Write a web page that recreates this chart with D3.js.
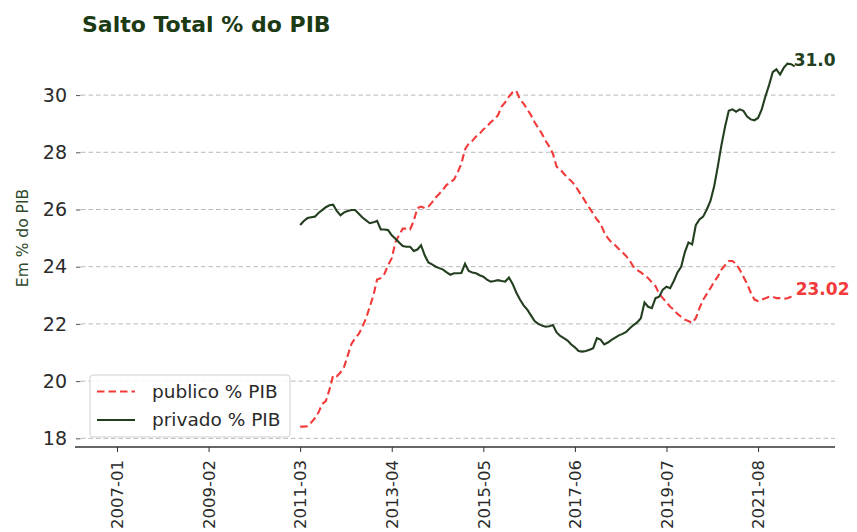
<!DOCTYPE html>
<html><head><meta charset="utf-8">
<script src="https://cdn.jsdelivr.net/npm/d3@7"></script>
<style>
body{margin:0;background:#fff;}
svg{display:block;font-family:"DejaVu Sans",sans-serif;}
</style></head>
<body><svg id="chart" width="857" height="532"></svg>
<script>
// Month index 0 = 2007-01; series start at 2011-03 (index 50)
const startIndex = 50;
const tickIndex = [0, 25, 50, 75, 100, 125, 150, 175];
const tickLabels = ["2007-01","2009-02","2011-03","2013-04","2015-05","2017-06","2019-07","2021-08"];
const yTicks = [18, 20, 22, 24, 26, 28, 30];

const publico = [
18.41,18.41,18.42,18.55,18.7,18.9,19.2,19.3,19.7,20.2,
20.17,20.3,20.5,20.9,21.3,21.5,21.65,21.9,22.2,22.6,
23.0,23.55,23.6,23.75,24.05,24.3,24.85,25.1,25.33,25.33,
25.3,25.6,26.05,26.1,26.05,26.1,26.25,26.42,26.55,26.7,
26.86,26.95,27.05,27.3,27.6,28.1,28.3,28.4,28.55,28.65,
28.8,28.9,29.05,29.15,29.3,29.6,29.75,29.95,30.1,30.15,
29.85,29.7,29.5,29.3,29.05,28.85,28.65,28.4,28.2,27.95,
27.5,27.4,27.25,27.1,27.0,26.85,26.65,26.45,26.25,26.05,
25.85,25.65,25.5,25.2,25.0,24.85,24.75,24.62,24.5,24.37,
24.2,24.0,23.88,23.8,23.7,23.6,23.45,23.32,23.05,22.9,
22.75,22.6,22.5,22.35,22.25,22.15,22.1,22.03,22.2,22.55,
22.84,23.05,23.25,23.47,23.65,23.9,24.05,24.2,24.2,24.1,
23.9,23.65,23.4,23.1,22.85,22.8,22.85,22.9,22.95,22.95,
22.9,22.9,22.88,22.9,22.95,23.02
];
const privado = [
25.46,25.6,25.7,25.73,25.75,25.88,25.98,26.08,26.15,26.17,
25.95,25.8,25.9,25.95,25.98,25.98,25.85,25.72,25.62,25.52,
25.55,25.6,25.3,25.3,25.28,25.1,24.98,24.85,24.72,24.7,
24.7,24.55,24.6,24.75,24.4,24.15,24.08,24.0,23.95,23.9,
23.8,23.72,23.77,23.77,23.78,24.1,23.85,23.8,23.77,23.7,
23.65,23.55,23.48,23.5,23.53,23.5,23.48,23.62,23.4,23.1,
22.85,22.65,22.5,22.3,22.1,22.0,21.94,21.9,21.92,21.96,
21.7,21.58,21.5,21.42,21.28,21.18,21.05,21.03,21.05,21.1,
21.15,21.5,21.45,21.28,21.35,21.44,21.52,21.6,21.65,21.72,
21.85,21.96,22.05,22.2,22.75,22.6,22.55,22.9,22.95,23.2,
23.3,23.25,23.5,23.8,24.0,24.5,24.85,24.78,25.45,25.65,
25.75,26.0,26.3,26.8,27.5,28.25,28.9,29.45,29.5,29.42,
29.5,29.45,29.25,29.15,29.12,29.2,29.5,29.95,30.35,30.8,
30.9,30.72,30.95,31.1,31.08,31.0
];

const svg = d3.select("#chart");
const x = d3.scaleLinear().domain([-10.1, 196]).range([80, 835]);
const y = d3.scaleLinear().domain([17.7, 31.8]).range([446.9, 43.6]);

const green = "#233f1f", red = "#f23a3a";

// grid
svg.append("g").selectAll("line").data(yTicks).join("line")
  .attr("x1", 81).attr("x2", 835)
  .attr("y1", d => y(d)).attr("y2", d => y(d))
  .attr("stroke", "#b0b0b0").attr("stroke-width", 0.9).attr("stroke-dasharray", "4.5,3");

// y axis (no spine)
const yAxis = svg.append("g").attr("transform", "translate(80.5,0)")
  .call(d3.axisLeft(y).tickValues(yTicks).tickSize(4.5).tickPadding(9).tickFormat(d3.format("d")));
yAxis.select(".domain").remove();
yAxis.selectAll("line").attr("stroke", "#555");
yAxis.selectAll("text").attr("font-size", 19).attr("fill", "#2a2a2a")
  .attr("font-family", "DejaVu Sans, sans-serif");

// x axis
const xAxis = svg.append("g").attr("transform", "translate(0,447)")
  .call(d3.axisBottom(x).tickValues(tickIndex).tickSize(5).tickFormat((d, i) => tickLabels[i]));
xAxis.select(".domain").attr("stroke", "#333").attr("stroke-width", 1.6).attr("d", "M75,0H835");
xAxis.selectAll("line").attr("stroke", "#333");
xAxis.selectAll("text").attr("font-size", 16.5).attr("fill", "#2a2a2a")
  .attr("font-family", "DejaVu Sans, sans-serif")
  .attr("text-anchor", "end")
  .attr("dx", 0).attr("dy", "0.35em").attr("x", 0).attr("y", 0)
  .attr("transform", "translate(0,13) rotate(-90)");

const line = d3.line().x((d, i) => x(startIndex + i)).y(d => y(d));

svg.append("path").datum(publico).attr("d", line)
  .attr("fill", "none").attr("stroke", red).attr("stroke-width", 2.1)
  .attr("stroke-dasharray", "7.5,4");
svg.append("path").datum(privado).attr("d", line)
  .attr("fill", "none").attr("stroke", green).attr("stroke-width", 2.1);

// end labels
const lastI = startIndex + publico.length - 1;
const fmt = v => { const r = Math.round(v * 100) / 100; return Number.isInteger(r) ? r.toFixed(1) : String(r); };
svg.append("text").attr("x", x(lastI) - 1).attr("y", y(privado[privado.length - 1]))
  .attr("font-size", 17).attr("font-weight", "bold").attr("fill", green)
  .text(fmt(privado[privado.length - 1]));
svg.append("text").attr("x", x(lastI) + 1).attr("y", y(publico[publico.length - 1]))
  .attr("font-size", 17).attr("font-weight", "bold").attr("fill", red)
  .text(fmt(publico[publico.length - 1]));

// title
svg.append("text").attr("x", 82).attr("y", 32).attr("font-size", 22).attr("font-weight", "bold")
  .attr("fill", "#1c3a14").text("Salto Total % do PIB");

// y label
svg.append("text").attr("transform", "translate(28,238) rotate(-90)")
  .attr("text-anchor", "middle").attr("font-size", 15.5).attr("fill", "#2f4a2c")
  .text("Em % do PIB");

// legend
const lg = svg.append("g").attr("transform", "translate(90,375)");
lg.append("rect").attr("width", 200).attr("height", 62).attr("rx", 3)
  .attr("fill", "#fff").attr("fill-opacity", 0.85).attr("stroke", "#d0d0d0");
const items = [{label: "publico % PIB", color: red, dash: "7.5,4"}, {label: "privado % PIB", color: green, dash: null}];
items.forEach((it, k) => {
  const yy = 16.5 + k * 28.5;
  lg.append("line").attr("x1", 7).attr("x2", 45).attr("y1", yy).attr("y2", yy)
    .attr("stroke", it.color).attr("stroke-width", 2.1).attr("stroke-dasharray", it.dash);
  lg.append("text").attr("x", 62).attr("y", yy + 6).attr("font-size", 18.5).attr("fill", "#2a2a2a")
    .text(it.label);
});
</script></body></html>
